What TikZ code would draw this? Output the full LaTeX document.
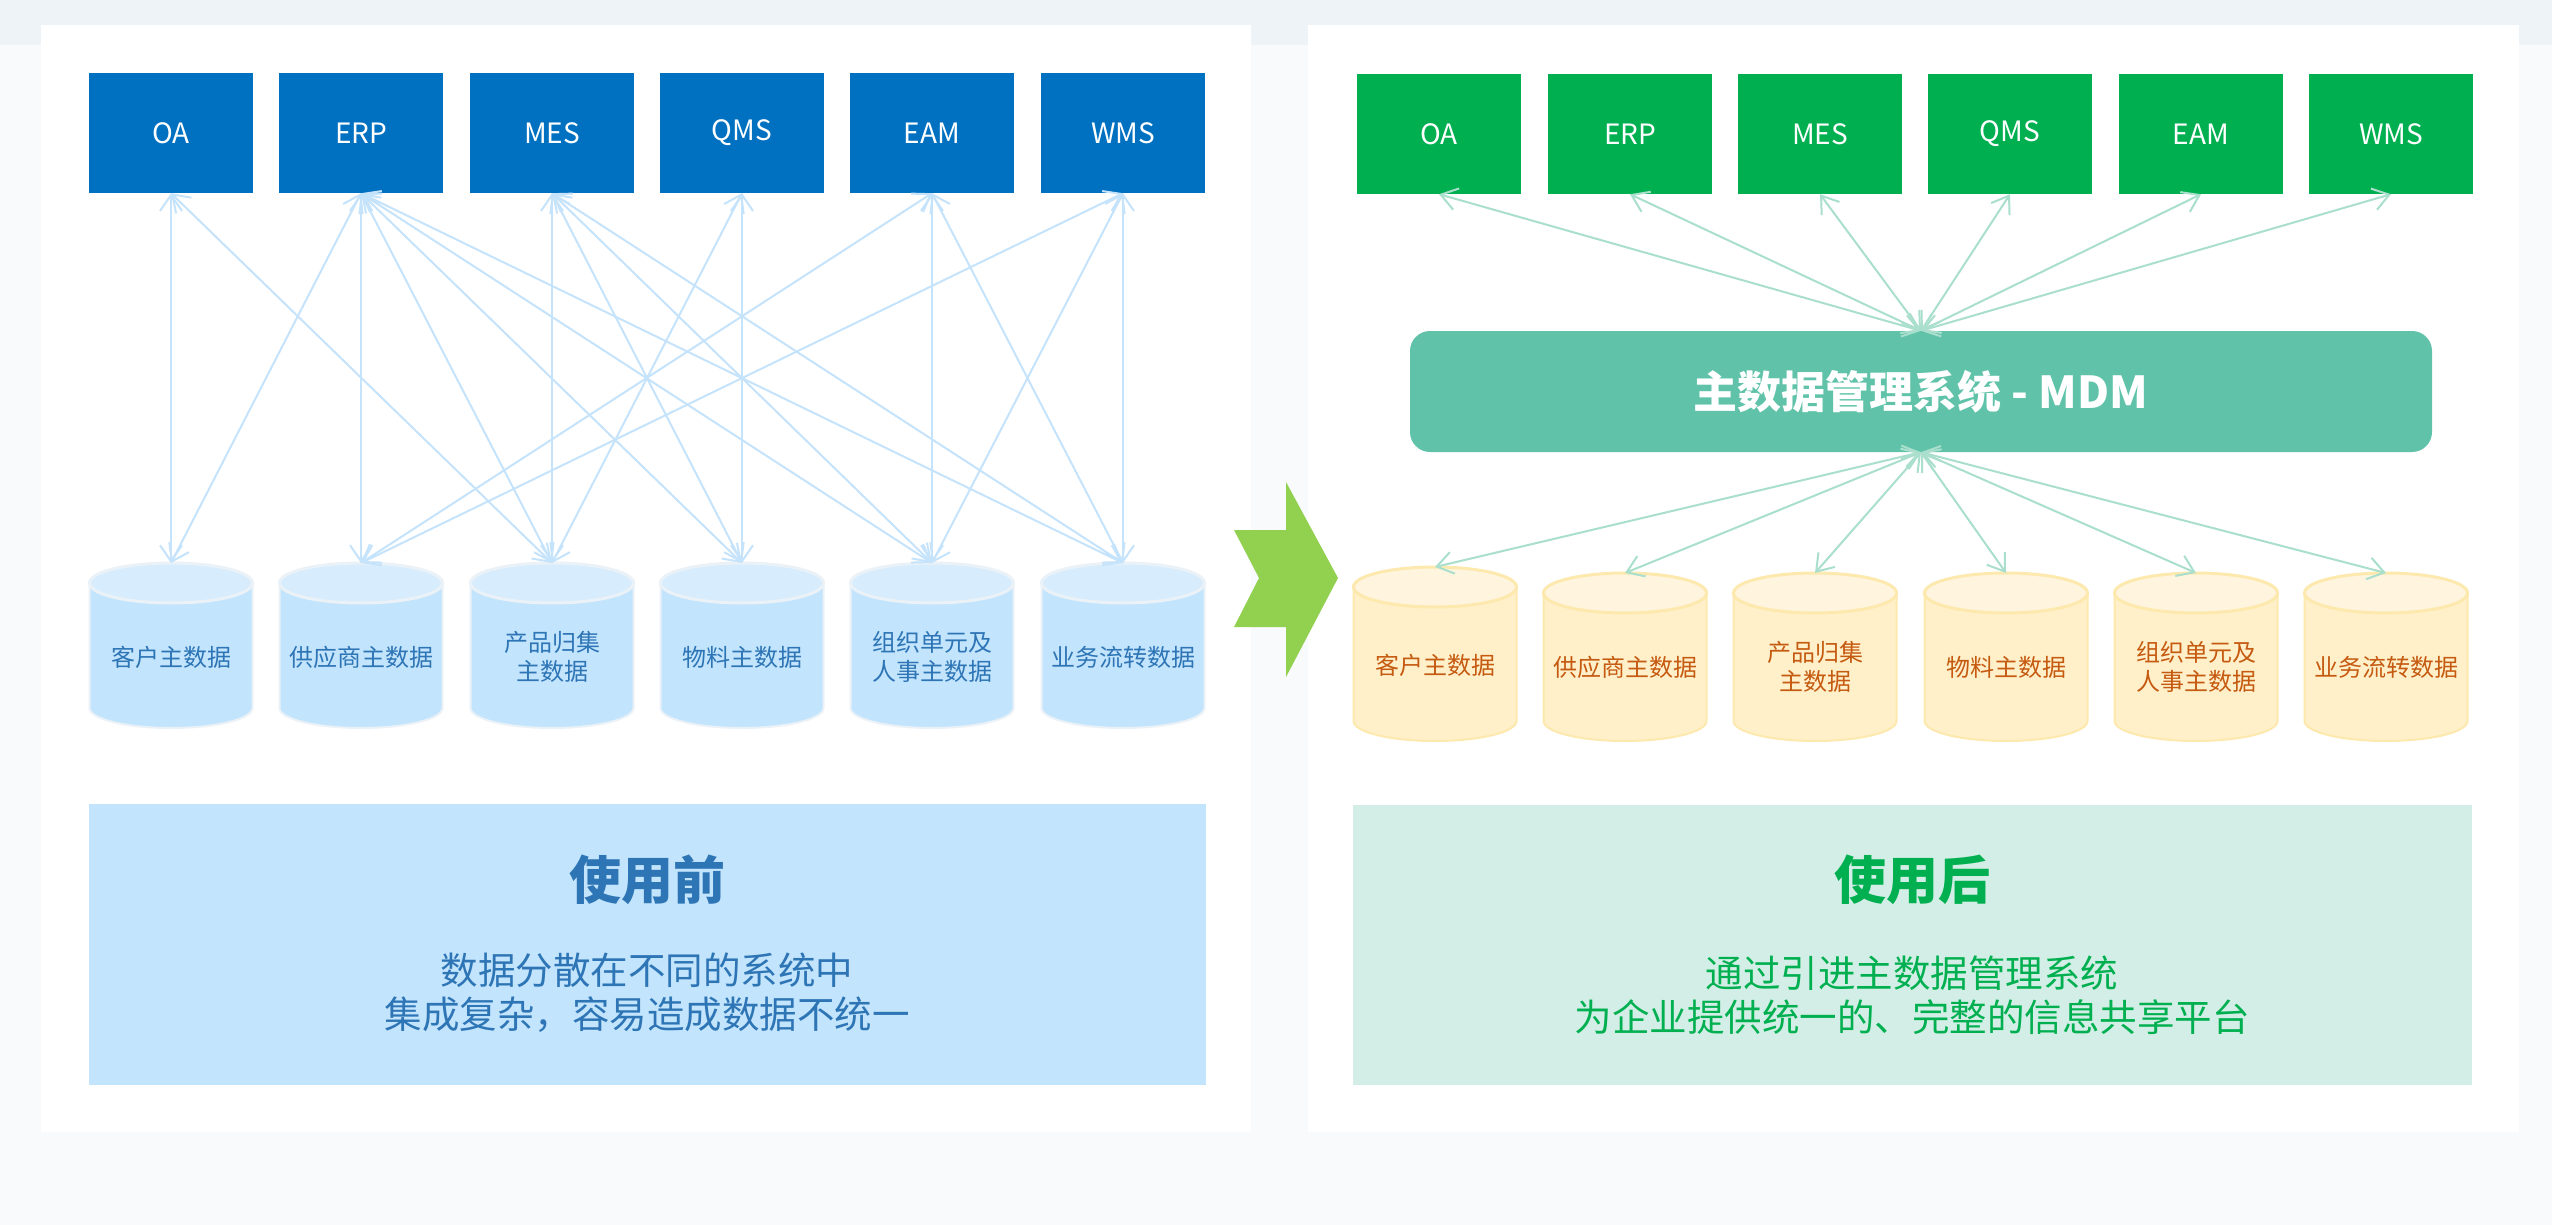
\documentclass[tikz,border=0pt]{standalone}
\usepackage{fontspec}
\setmainfont{Noto Sans CJK SC}
\usetikzlibrary{arrows.meta}
\definecolor{bgc}{HTML}{F8FAFC}
\definecolor{bandc}{HTML}{EEF3F7}
\definecolor{blueBox}{HTML}{0070C0}
\definecolor{greenBox}{HTML}{00B050}
\definecolor{lineL}{HTML}{C5E3FB}
\definecolor{lineR}{HTML}{A9DFCC}
\definecolor{cylLbody}{HTML}{C2E4FC}
\definecolor{cylLtop}{HTML}{D7ECFD}
\definecolor{cylLedge}{HTML}{EAF2F8}
\definecolor{cylRbody}{HTML}{FFF0C9}
\definecolor{cylRtop}{HTML}{FFF5DE}
\definecolor{cylRedge}{HTML}{FDE9AE}
\definecolor{txtL}{HTML}{2E75B6}
\definecolor{txtR}{HTML}{C55A11}
\definecolor{mdmc}{HTML}{60C3A9}
\definecolor{panLc}{HTML}{C2E4FC}
\definecolor{panRc}{HTML}{D3EEE6}
\definecolor{arrowG}{HTML}{92D050}
\definecolor{titleG}{HTML}{00B050}
\tikzset{
  sysbox/.style={minimum width=164pt, minimum height=120pt, inner sep=0pt, text=white, font=\fontsize{28}{32}\selectfont},
  sysL/.style={sysbox, fill=blueBox},
  sysR/.style={sysbox, fill=greenBox},
  Lbody/.style={fill=cylLbody, draw=cylLedge, line width=2pt},
  Ltop/.style={fill=cylLtop, draw=cylLedge, line width=3pt},
  Ltxt/.style={text=txtL, align=center, font=\fontsize{24}{29}\selectfont, inner sep=0pt},
  Rbody/.style={fill=cylRbody, draw=cylRedge, line width=2pt},
  Rtop/.style={fill=cylRtop, draw=cylRedge, line width=3pt},
  Rtxt/.style={text=txtR, align=center, font=\fontsize{24}{29}\selectfont, inner sep=0pt},
  lnkL/.style={draw=lineL, line width=2pt, arrows={Straight Barb[length=16pt,width=22pt]-Straight Barb[length=16pt,width=22pt]}},
  lnkR/.style={draw=lineR, line width=2pt, arrows={Straight Barb[length=16pt,width=22pt]-Straight Barb[length=16pt,width=22pt]}},
  panel/.style={minimum width=1117pt, minimum height=281pt, inner sep=0pt},
  ptitle/.style={font=\fontsize{52}{60}\selectfont\bfseries, inner sep=0pt},
  pdesc/.style={font=\fontsize{37.5}{44}\selectfont, align=center, inner sep=0pt}
}
\newcommand\dbcyl[7]{% name, cx, top, bottom, prefix, texty, text
  \pgfmathsetmacro\cxL{#2-81.5}\pgfmathsetmacro\cxR{#2+81.5}%
  \pgfmathsetmacro\tcY{#3+20}\pgfmathsetmacro\bcY{#4-20}%
  \filldraw[#5body] (\cxL,\tcY) -- (\cxL,\bcY) arc[start angle=180,end angle=0,x radius=81.5,y radius=20] -- (\cxR,\tcY) -- cycle;
  \filldraw[#5top] (#2,\tcY) ellipse[x radius=81.5, y radius=20];
  \coordinate (#1) at (#2,#3);
  \node[#5txt] (#1t) at (#2,#6) {#7};
}
\begin{document}
\begin{tikzpicture}[x=1pt,y=-1pt]
\useasboundingbox (0,0) rectangle (2552,1225);
\fill[bgc] (0,0) rectangle (2552,1225);
\fill[bandc] (0,0) rectangle (2552,45);
\fill[white] (41,25) rectangle (1251,1132);
\fill[white] (1308,25) rectangle (2519,1132);

% ---------- left: before ----------
\node[sysL] (lOA)  at (171,133) {OA};
\node[sysL] (lERP) at (361,133) {ERP};
\node[sysL] (lMES) at (552,133) {MES};
\node[sysL] (lQMS) at (742,133) {QMS};
\node[sysL] (lEAM) at (932,133) {EAM};
\node[sysL] (lWMS) at (1123,133) {WMS};

\dbcyl{lc1}{171}{563}{728}{L}{657}{客户主数据}
\dbcyl{lc2}{361}{563}{728}{L}{657}{供应商主数据}
\dbcyl{lc3}{552}{563}{728}{L}{657}{产品归集\\主数据}
\dbcyl{lc4}{742}{563}{728}{L}{657}{物料主数据}
\dbcyl{lc5}{932}{563}{728}{L}{657}{组织单元及\\人事主数据}
\dbcyl{lc6}{1123}{563}{728}{L}{657}{业务流转数据}

\foreach \a/\b in {lOA/lc1, lOA/lc3,
  lERP/lc1, lERP/lc2, lERP/lc3, lERP/lc4, lERP/lc5, lERP/lc6,
  lMES/lc3, lMES/lc4, lMES/lc5, lMES/lc6,
  lQMS/lc3, lQMS/lc4,
  lEAM/lc2, lEAM/lc5, lEAM/lc6,
  lWMS/lc2, lWMS/lc5, lWMS/lc6}
  \draw[lnkL] (\a.south) -- (\b);

\node[panel, fill=panLc] (pL) at (647,944) {};
\node[ptitle, text=txtL] (pLt) at (647,880) {使用前};
\node[pdesc, text=txtL] (pLd) at (647,993) {数据分散在不同的系统中\\集成复杂，容易造成数据不统一};

% ---------- middle arrow ----------
\fill[arrowG] (1234,530) -- (1286,530) -- (1286,482) -- (1338,578) -- (1286,677) -- (1286,627) -- (1234,627) -- (1259,578) -- cycle;

% ---------- right: after ----------
\node[sysR] (rOA)  at (1439,134) {OA};
\node[sysR] (rERP) at (1630,134) {ERP};
\node[sysR] (rMES) at (1820,134) {MES};
\node[sysR] (rQMS) at (2010,134) {QMS};
\node[sysR] (rEAM) at (2201,134) {EAM};
\node[sysR] (rWMS) at (2391,134) {WMS};

\node[fill=mdmc, rounded corners=20pt, minimum width=1022pt, minimum height=121pt, inner sep=0pt,
      text=white, font=\fontsize{44}{50}\selectfont\bfseries] (mdm) at (1921,391.5) {主数据管理系统 - MDM};

\dbcyl{rc1}{1435}{567}{741}{R}{665}{客户主数据}
\dbcyl{rc2}{1625}{573}{741}{R}{667}{供应商主数据}
\dbcyl{rc3}{1815}{573}{741}{R}{667}{产品归集\\主数据}
\dbcyl{rc4}{2006}{573}{741}{R}{667}{物料主数据}
\dbcyl{rc5}{2196}{573}{741}{R}{667}{组织单元及\\人事主数据}
\dbcyl{rc6}{2386}{573}{741}{R}{667}{业务流转数据}

\foreach \b in {rOA, rERP, rMES, rQMS, rEAM, rWMS}
  \draw[lnkR] (mdm.north) -- (\b.south);
\foreach \b in {rc1, rc2, rc3, rc4, rc5, rc6}
  \draw[lnkR] (mdm.south) -- (\b);

\node[panel, fill=panRc, minimum width=1119pt, minimum height=280pt] (pR) at (1912.5,945) {};
\node[ptitle, text=titleG] (pRt) at (1912,880) {使用后};
\node[pdesc, text=titleG] (pRd) at (1912,995) {通过引进主数据管理系统\\为企业提供统一的、完整的信息共享平台};
\end{tikzpicture}
\end{document}
